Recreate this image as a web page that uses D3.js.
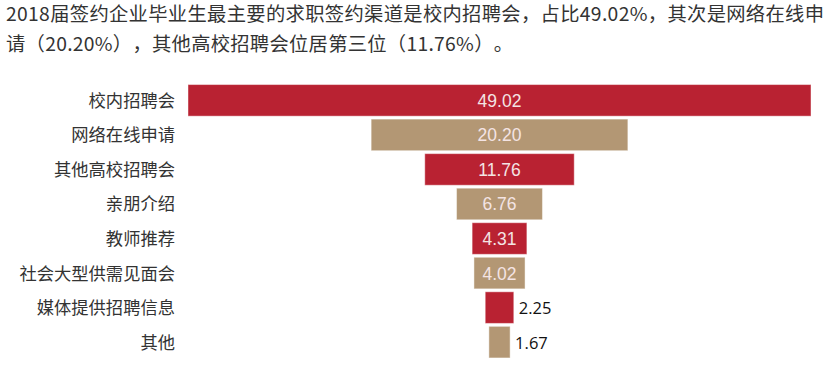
<!DOCTYPE html>
<html><head><meta charset="utf-8">
<script src="https://cdn.jsdelivr.net/npm/d3@7/dist/d3.min.js"></script>
<style>body{margin:0;background:#fff;}svg{display:block;} text{text-spacing-trim: space-all;}</style>
</head><body><svg id="c" width="833" height="377"></svg>
<script>
const titleLines = [
  "2018届签约企业毕业生最主要的求职签约渠道是校内招聘会，占比49.02%，其次是网络在线申",
  "请（20.20%），其他高校招聘会位居第三位（11.76%）。"
];
const categories = ["校内招聘会","网络在线申请","其他高校招聘会","亲朋介绍","教师推荐","社会大型供需见面会","媒体提供招聘信息","其他"];
const values = [49.02, 20.20, 11.76, 6.76, 4.31, 4.02, 2.25, 1.67];
const valueLabels = ["49.02","20.20","11.76","6.76","4.31","4.02","2.25","1.67"];
const colors = ["#B92232", "#B39774"];

const svg = d3.select("#c");
const cx = 499.5;
const titleWidths = [818, 507];

svg.selectAll("text.title").data(titleLines).enter().append("text")
  .attr("class","title")
  .attr("x", 6).attr("y", (d,i)=> 21 + i*30)
  .attr("font-family", "'Noto Sans CJK SC', sans-serif")
  .attr("font-size", 19.3).attr("fill", "#333")
  .attr("textLength", (d,i)=> titleWidths[i])
  .attr("lengthAdjust", "spacing")
  .text(d=>d);

const y = d3.scaleBand().domain(categories).range([83, 359.5]).paddingInner(0.085).paddingOuter(0.045);
const x = d3.scaleLinear().domain([0, d3.max(values)]).range([0, 623]);

const g = svg.append("g");
const data = categories.map((c,i)=>({c, v: values[i], l: valueLabels[i], i}));

g.selectAll("rect").data(data).enter().append("rect")
  .attr("x", d=> cx - x(d.v)/2)
  .attr("y", d=> y(d.c))
  .attr("width", d=> x(d.v))
  .attr("height", y.bandwidth())
  .attr("fill", d=> colors[d.i % 2])
  .attr("stroke", "rgba(255,255,255,0.45)")
  .attr("stroke-width", 1);

g.selectAll("text.cat").data(data).enter().append("text")
  .attr("class","cat")
  .attr("x", 175).attr("y", d=> y(d.c) + y.bandwidth()/2 + 6.5)
  .attr("text-anchor","end")
  .attr("font-family", "'Noto Sans CJK SC', sans-serif")
  .attr("font-size", 17.3).attr("fill","#333")
  .text(d=>d.c);

g.selectAll("text.val").data(data).enter().append("text")
  .attr("class","val")
  .each(function(d){
    const inside = x(d.v) > 40;
    const t = d3.select(this);
    if (inside) {
      t.attr("x", cx).attr("text-anchor","middle")
       .attr("fill","#F4E4E4")
       .attr("font-family","'Liberation Sans', Arial, sans-serif")
       .attr("font-size", 17.5);
    } else {
      t.attr("x", cx + x(d.v)/2 + 5).attr("text-anchor","start")
       .attr("fill","#111")
       .attr("font-family","'Open Sans', 'Liberation Sans', sans-serif")
       .attr("font-size", 16.5);
    }
    t.attr("y", y(d.c) + y.bandwidth()/2 + 6.5).text(d.l);
  });
</script></body></html>
